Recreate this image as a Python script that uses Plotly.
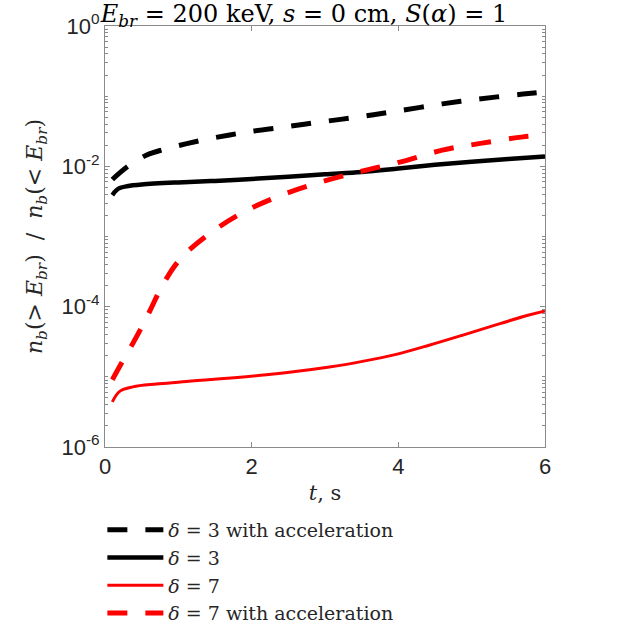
import plotly.graph_objects as go

# ---- data ----
t_k3acc = [0.1, 0.3, 0.57, 0.8, 1.1, 1.4, 1.7, 2.0, 2.5, 3.0, 3.5, 4.0, 4.6, 5.1, 5.7, 6.0]
y_k3acc = [0.0065, 0.0098, 0.0145, 0.0174, 0.0209, 0.0245, 0.028, 0.0316, 0.037, 0.0437,
           0.0513, 0.0617, 0.0776, 0.0912, 0.107, 0.115]

t_k3 = [0.1, 0.15, 0.2, 0.3, 0.5, 1.0, 1.5, 2.0, 2.5, 3.0, 3.5, 4.0, 4.5, 5.0, 5.5, 6.0]
y_k3 = [0.0039, 0.0045, 0.0049, 0.0052, 0.0055, 0.0059, 0.0062, 0.0066, 0.0071, 0.0077,
        0.0083, 0.0093, 0.0105, 0.0116, 0.0127, 0.0138]

t_k7 = [0.1, 0.2, 0.38, 0.7, 1.06, 2.2, 3.06, 3.51, 3.97, 4.42, 4.87, 5.33, 5.78, 6.0]
y_k7 = [4.4e-6, 6.2e-6, 7.2e-6, 7.9e-6, 8.5e-6, 1.07e-5, 1.38e-5, 1.66e-5, 2.09e-5, 2.82e-5,
        3.9e-5, 5.5e-5, 7.6e-5, 8.7e-5]

t_k7acc = [0.1, 0.23, 0.38, 0.5, 0.64, 0.77, 1.02, 1.4, 1.88, 2.41, 2.95, 3.5, 4.05, 4.6,
           5.14, 5.7, 6.0]
y_k7acc = [9.1e-6, 1.6e-5, 3.0e-5, 5.1e-5, 1.0e-4, 1.9e-4, 4.7e-4, 1.05e-3, 2.2e-3, 3.9e-3,
           6.0e-3, 8.5e-3, 0.0117, 0.017, 0.0214, 0.0263, 0.028]

end_labels = ["15%", "3.5%", "1.7%", "0.01%"]
end_label_y = [0.15, 0.035, 0.017, 0.0001]
end_label_colors = ["black", "red", "black", "red"]

x_ticks = [0, 2, 4, 6]
y_ticks = [1e-6, 1e-4, 1e-2, 1e0]
y_ticktext = ["10<sup>-6</sup>", "10<sup>-4</sup>", "10<sup>-2</sup>", "10<sup>0</sup>"]

SERIF = "DejaVu Serif, Liberation Serif, serif"
SANS = "Liberation Sans, Arial, sans-serif"

fig = go.Figure()
fig.add_trace(go.Scatter(x=t_k3acc, y=y_k3acc, mode="lines", line_shape="spline",
                         line=dict(color="black", width=5, dash="20px,18px"),
                         name="<i>δ</i> = 3 with acceleration"))
fig.add_trace(go.Scatter(x=t_k3, y=y_k3, mode="lines", line_shape="spline",
                         line=dict(color="black", width=4.5),
                         name="<i>δ</i> = 3"))
fig.add_trace(go.Scatter(x=t_k7, y=y_k7, mode="lines", line_shape="spline",
                         line=dict(color="red", width=3),
                         name="<i>δ</i> = 7"))
fig.add_trace(go.Scatter(x=t_k7acc, y=y_k7acc, mode="lines", line_shape="spline",
                         line=dict(color="red", width=5, dash="20px,18px"),
                         name="<i>δ</i> = 7 with acceleration"))

for txt, yv, col in zip(end_labels, end_label_y, end_label_colors):
    fig.add_annotation(x=1.05, xref="paper", y=yv, yref="y", text=txt, showarrow=False,
                       xanchor="left", yanchor="middle",
                       font=dict(family=SANS, size=17, color=col))

axis_common = dict(showline=True, linecolor="#8a8a8a", linewidth=1, mirror="ticks",
                   ticks="inside", tickcolor="#8a8a8a", ticklen=5, showgrid=False,
                   zeroline=False, tickfont=dict(family=SANS, size=22, color="#262626"))

fig.update_xaxes(range=[0, 6], tickvals=x_ticks,
                 title=dict(text="<i>t</i>, s", font=dict(family=SERIF, size=21, color="#262626"),
                            standoff=6),
                 **axis_common)
fig.update_yaxes(type="log", range=[-6, 0], tickvals=y_ticks, ticktext=y_ticktext,
                 minor=dict(ticks="inside", ticklen=3, tickcolor="#8a8a8a", dtick="D1"),
                 title=dict(text="<i>n</i><sub><i>b</i></sub>(&gt; <i>E</i><sub><i>br</i></sub>)  /  "
                                 "<i>n</i><sub><i>b</i></sub>(&lt; <i>E</i><sub><i>br</i></sub>)",
                            font=dict(family=SERIF, size=22, color="#262626"), standoff=12),
                 **axis_common)

fig.update_layout(
    width=619, height=624,
    margin=dict(l=105, r=74, t=26, b=177, autoexpand=False),
    paper_bgcolor="white", plot_bgcolor="white",
    title=dict(text="<i>E<sub>br</sub></i> = 200 keV, <i>s</i> = 0 cm, <i>S</i>(<i>α</i>) = 1",
               x=304 / 619, xref="container", xanchor="center",
               y=1 - 14 / 624, yref="container", yanchor="middle",
               font=dict(family=SERIF, size=24, color="black")),
    showlegend=True,
    legend=dict(x=-0.006, y=-0.152, xanchor="left", yanchor="top", orientation="v",
                font=dict(family=SERIF, size=19, color="#262626"),
                bgcolor="rgba(0,0,0,0)", tracegroupgap=0, itemwidth=56),
)

fig.write_html("out.html", config={"displayModeBar": False},
               post_script="document.body.style.margin='0';")
